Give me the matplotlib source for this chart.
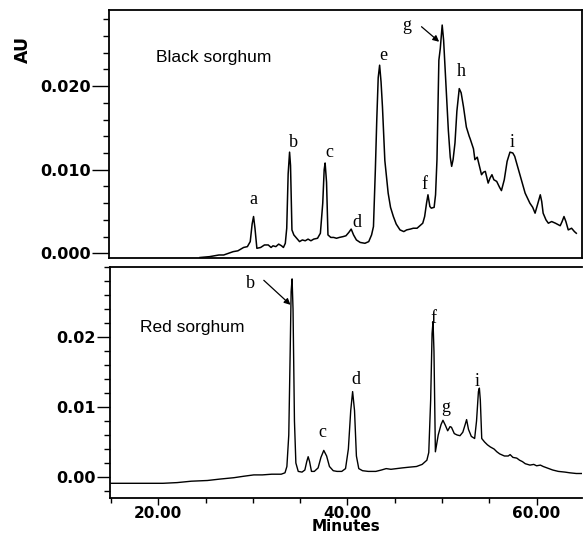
import matplotlib
matplotlib.use("Agg")
import matplotlib.pyplot as plt
from matplotlib.ticker import MultipleLocator, FormatStrFormatter, FixedLocator
from matplotlib.font_manager import FontProperties

# ---- Black sorghum trace (minutes, AU) ----
black_t = [24.5, 25.5, 26.5, 27.0, 27.5, 28.0, 28.5, 29.1, 29.5, 29.8, 30.0, 30.15, 30.3, 30.5,
           30.9, 31.3, 31.7, 32.0, 32.2, 32.5, 32.8, 33.1, 33.3, 33.5, 33.65, 33.8, 33.95, 34.05,
           34.2, 34.4, 34.7, 35.0, 35.3, 35.6, 35.9, 36.2, 36.5, 36.9, 37.2, 37.45, 37.6, 37.7,
           37.85, 38.0, 38.3, 38.6, 38.9, 39.2, 39.6, 39.9, 40.2, 40.45, 40.7, 41.0, 41.4, 41.9,
           42.3, 42.6, 42.8, 43.0, 43.15, 43.3, 43.45, 43.6, 43.75, 44.0, 44.35, 44.6, 44.9, 45.2,
           45.6, 46.0, 46.3, 46.7, 47.0, 47.4, 47.7, 48.0, 48.2, 48.4, 48.55, 48.75, 48.9, 49.2,
           49.35, 49.5, 49.7, 49.85, 50.05, 50.2, 50.4, 50.7, 50.9, 51.05, 51.2, 51.4, 51.6, 51.85,
           52.05, 52.3, 52.6, 52.9, 53.0, 53.15, 53.35, 53.5, 53.75, 53.9, 54.2, 54.4, 54.6, 54.9,
           55.1, 55.3, 55.5, 55.8, 56.1, 56.3, 56.6, 56.9, 57.2, 57.5, 57.7, 58.0, 58.3, 58.8,
           59.3, 59.6, 59.85, 60.1, 60.4, 60.55, 60.7, 61.0, 61.25, 61.6, 62.0, 62.5, 62.7, 62.9,
           63.1, 63.35, 63.7, 64.0, 64.2]
black_au = [-0.0005, -0.0004, -0.0002, -0.0002, 0.0000, 0.0002, 0.0003, 0.0007, 0.0008, 0.0014,
            0.0035, 0.0044, 0.0030, 0.0006, 0.0007, 0.0010, 0.0010, 0.0007, 0.0009, 0.0008,
            0.0011, 0.0009, 0.0007, 0.0012, 0.0030, 0.0095, 0.0121, 0.0105, 0.0028, 0.0022,
            0.0018, 0.0014, 0.0016, 0.0015, 0.0017, 0.0015, 0.0017, 0.0018, 0.0024, 0.0060,
            0.0100, 0.0108, 0.0085, 0.0022, 0.0019, 0.0019, 0.0018, 0.0019, 0.0020, 0.0021,
            0.0025, 0.0029, 0.0022, 0.0016, 0.0013, 0.0012, 0.0014, 0.0022, 0.0032, 0.0100,
            0.0160, 0.0210, 0.0225, 0.0205, 0.0175, 0.0111, 0.0072, 0.0055, 0.0044, 0.0035,
            0.0028, 0.0026, 0.0028, 0.0029, 0.0030, 0.0030, 0.0033, 0.0036, 0.0044, 0.0060,
            0.0070, 0.0056, 0.0054, 0.0055, 0.0070, 0.0112, 0.0231, 0.0245, 0.0273, 0.0255,
            0.0211, 0.0147, 0.0115, 0.0104, 0.0112, 0.0132, 0.0170, 0.0197, 0.0192, 0.0175,
            0.0151, 0.0140, 0.0137, 0.0132, 0.0125, 0.0112, 0.0115, 0.0108, 0.0094, 0.0097,
            0.0098, 0.0084, 0.0090, 0.0094, 0.0088, 0.0086, 0.0079, 0.0075, 0.0088, 0.0110,
            0.0121, 0.0120, 0.0116, 0.0104, 0.0092, 0.0072, 0.0060, 0.0055, 0.0048, 0.0058,
            0.0070, 0.0062, 0.0048, 0.0040, 0.0036, 0.0038, 0.0036, 0.0033, 0.0038, 0.0044,
            0.0038, 0.0028, 0.0030, 0.0026, 0.0024]

# ---- Red sorghum trace (minutes, AU) ----
red_t = [15.0, 17.0, 19.0, 20.5, 22.0, 23.5, 25.2, 26.5, 28.0, 29.0, 30.1, 31.0, 32.0, 33.0,
         33.4, 33.6, 33.8, 33.95, 34.05, 34.15, 34.25, 34.4, 34.55, 34.8, 35.2, 35.5, 35.7,
         35.85, 36.0, 36.2, 36.5, 36.9, 37.2, 37.5, 37.8, 38.1, 38.5, 38.9, 39.4, 39.8, 40.1,
         40.35, 40.55, 40.75, 40.95, 41.2, 41.6, 42.2, 43.0, 43.6, 44.1, 44.6, 45.2, 45.8, 46.5,
         47.3, 47.9, 48.4, 48.6, 48.8, 48.95, 49.05, 49.15, 49.3, 49.6, 49.9, 50.1, 50.35, 50.6,
         50.85, 51.0, 51.3, 51.6, 51.9, 52.2, 52.45, 52.6, 52.8, 53.1, 53.45, 53.65, 53.85,
         53.95, 54.05, 54.2, 54.5, 54.8, 55.1, 55.5, 55.8, 56.1, 56.6, 57.0, 57.2, 57.5, 57.9,
         58.2, 58.5, 58.8, 59.3, 59.7, 60.0, 60.4, 60.7, 61.1, 61.7, 62.3, 63.0, 63.5, 64.2, 64.8]
red_au = [-0.0009, -0.0009, -0.0009, -0.0009, -0.0008, -0.0006, -0.0005, -0.0003, -0.0001,
          0.0001, 0.0003, 0.0003, 0.0004, 0.0004, 0.0006, 0.0015, 0.0060, 0.0180, 0.0265,
          0.0283, 0.0240, 0.0080, 0.0020, 0.0008, 0.0007, 0.0010, 0.0022, 0.0029, 0.0022,
          0.0008, 0.0008, 0.0013, 0.0028, 0.0038, 0.0030, 0.0015, 0.0009, 0.0008, 0.0008,
          0.0012, 0.0040, 0.0095, 0.0122, 0.0095, 0.0030, 0.0012, 0.0009, 0.0008, 0.0008,
          0.0010, 0.0012, 0.0011, 0.0012, 0.0013, 0.0014, 0.0015, 0.0018, 0.0024, 0.0035,
          0.0110, 0.0205, 0.0222, 0.0180, 0.0036, 0.0060, 0.0075, 0.0081, 0.0074, 0.0066,
          0.0072, 0.0071, 0.0062, 0.0060, 0.0059, 0.0064, 0.0075, 0.0082, 0.0068, 0.0058,
          0.0055, 0.0080, 0.0122, 0.0127, 0.0110, 0.0055, 0.0050, 0.0046, 0.0043, 0.0040,
          0.0036, 0.0033, 0.0030, 0.0030, 0.0032, 0.0028, 0.0027, 0.0024, 0.0022, 0.0019,
          0.0017, 0.0018, 0.0016, 0.0017, 0.0015, 0.0013, 0.0010, 0.0008, 0.0007, 0.0006,
          0.0005, 0.0005]

# ---- Peak labels ----
black_labels = ["a", "b", "c", "d", "e", "f", "g", "h", "i"]
black_label_x = [30.1, 34.4, 38.1, 41.0, 43.8, 48.2, 46.3, 52.1, 57.4]
black_label_y = [0.0064, 0.0133, 0.0121, 0.0037, 0.0237, 0.0082, 0.0273, 0.0217, 0.0132]
red_labels = ["b", "c", "d", "f", "g", "i"]
red_label_x = [29.8, 37.35, 40.9, 49.1, 50.4, 53.7]
red_label_y = [0.0277, 0.0063, 0.0139, 0.0227, 0.0099, 0.0136]

x_ticks = [20, 40, 60]
black_y_ticks = [0.000, 0.010, 0.020]
red_y_ticks = [0.00, 0.01, 0.02]

W, H = 584, 540
fig = plt.figure(figsize=(W / 100, H / 100), dpi=100)

def frac(x0, y0, x1, y1):
    return [x0 / W, 1 - y1 / H, (x1 - x0) / W, (y1 - y0) / H]

ax1 = fig.add_axes(frac(109, 10, 582, 258))
ax2 = fig.add_axes(frac(110, 267, 582, 498))

ytick_fp = FontProperties(family="DejaVu Sans", weight="bold", size=11.5)
xtick_fp = FontProperties(family="DejaVu Sans", weight="bold", size=11)
serif = dict(family="Liberation Serif", size=13)

for ax in (ax1, ax2):
    ax.set_xlim(14.9, 64.8)
    for sp in ax.spines.values():
        sp.set_linewidth(1.3)
    ax.tick_params(axis="y", which="minor", direction="out", length=4, width=1.0)
ax1.tick_params(axis="y", which="major", direction="out", length=12, width=1.0, pad=1)
ax2.tick_params(axis="y", which="major", direction="out", length=9.5, width=1.0, pad=1)

# Top panel
ax1.plot(black_t, black_au, color="black", lw=1.1)
ax1.set_ylim(-0.00056, 0.0291)
ax1.yaxis.set_major_locator(FixedLocator(black_y_ticks))
ax1.yaxis.set_minor_locator(MultipleLocator(0.002))
ax1.yaxis.set_major_formatter(FormatStrFormatter("%.3f"))
ax1.set_xticks([])
ax1.text(25.96, 0.02347, "Black sorghum", family="Liberation Sans", size=12.5,
         ha="center", va="center")
for s, x, y in zip(black_labels, black_label_x, black_label_y):
    ax1.text(x, y, s, ha="center", va="center", **serif)
ax1.annotate("", xy=(49.73, 0.0253), xytext=(47.87, 0.0271),
             arrowprops=dict(arrowstyle="-|>", color="black", lw=0.9,
                             mutation_scale=9, shrinkA=0, shrinkB=0))
ax1.set_ylabel("AU", fontdict=dict(family="DejaVu Sans", weight="bold", size=12.5))
ax1.yaxis.set_label_coords(-0.162, 0.84)

# Bottom panel
ax2.plot(red_t, red_au, color="black", lw=1.0)
ax2.set_ylim(-0.003, 0.030)
ax2.yaxis.set_major_locator(FixedLocator(red_y_ticks))
ax2.yaxis.set_minor_locator(MultipleLocator(0.002))
ax2.yaxis.set_major_formatter(FormatStrFormatter("%.2f"))
ax2.spines["right"].set_visible(False)
ax2.set_xticks(x_ticks)
ax2.xaxis.set_minor_locator(MultipleLocator(5))
ax2.xaxis.set_major_formatter(FormatStrFormatter("%.2f"))
ax2.tick_params(axis="x", which="major", direction="out", length=5, width=1.0, pad=0.5)
ax2.tick_params(axis="x", which="minor", direction="out", length=3.5, width=1.0)
ax2.text(23.6, 0.0213, "Red sorghum", family="Liberation Sans", size=12.5,
         ha="center", va="center")
for s, x, y in zip(red_labels, red_label_x, red_label_y):
    ax2.text(x, y, s, ha="center", va="center", **serif)
ax2.annotate("", xy=(33.98, 0.0246), xytext=(31.16, 0.0281),
             arrowprops=dict(arrowstyle="-|>", color="black", lw=0.9,
                             mutation_scale=9, shrinkA=0, shrinkB=0))
ax2.set_xlabel("Minutes", fontdict=dict(family="DejaVu Sans", weight="bold", size=11),
               labelpad=-1)

for lab in ax1.get_yticklabels() + ax2.get_yticklabels():
    lab.set_fontproperties(ytick_fp)
for lab in ax2.get_xticklabels():
    lab.set_fontproperties(xtick_fp)

fig.savefig("out.png", dpi=100)
